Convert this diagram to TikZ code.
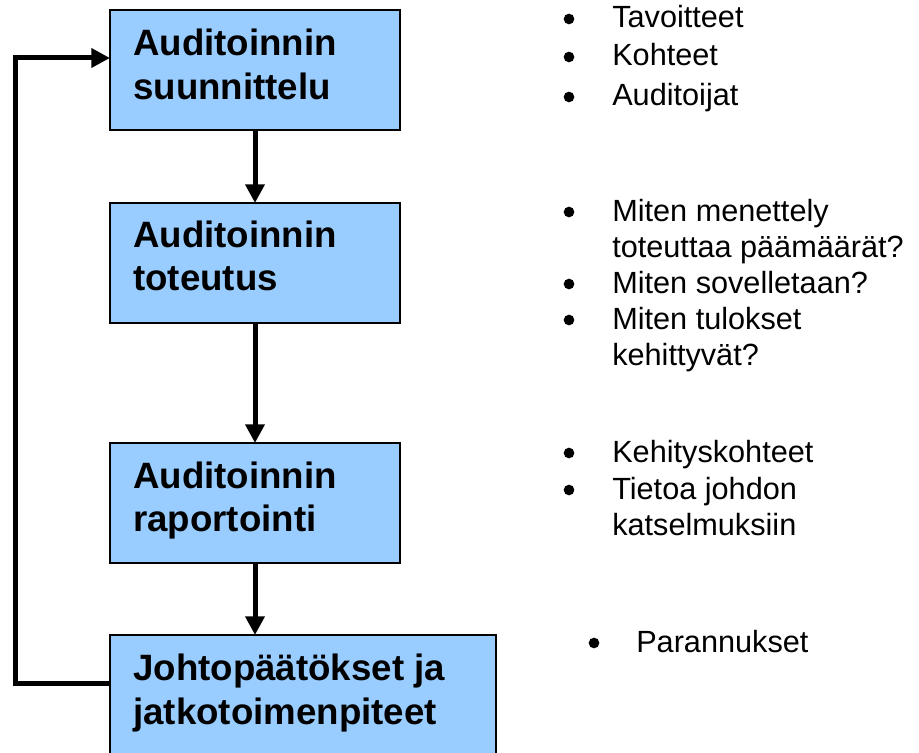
\documentclass[tikz,border=0pt]{standalone}
\usepackage{fontspec}
\setmainfont{Liberation Sans}
\usetikzlibrary{arrows.meta}
\definecolor{boxblue}{RGB}{153,204,255}
\tikzset{
  stagebox/.style={draw=black, line width=0.8pt, fill=boxblue, inner sep=0pt, outer sep=0pt, minimum height=90pt},
  boxtext/.style={anchor=base west, inner sep=0pt, font=\bfseries\fontsize{27.5pt}{33pt}\selectfont},
  itemtext/.style={anchor=base west, inner sep=0pt, font=\fontsize{23pt}{28pt}\selectfont},
  flow/.style={line width=3.75pt, -{Triangle[length=14pt,width=14pt]}},
  dotmark/.style={fill=black}
}
\begin{document}
\begin{tikzpicture}[x=0.75pt,y=-0.75pt]
\useasboundingbox (0,0) rectangle (919,752);
% boxes
\node[stagebox, minimum width=217.5pt] (b1) at (255,70) {};
\node[stagebox, minimum width=217.5pt] (b2) at (255,263) {};
\node[stagebox, minimum width=217.5pt] (b3) at (255,503) {};
\node[stagebox, minimum width=289.5pt] (b4) at (303,695) {};
% box texts
\node[boxtext] (t1a) at (133,56) {Auditoinnin};
\node[boxtext] (t1b) at (133,100) {suunnittelu};
\node[boxtext] (t2a) at (133,247) {Auditoinnin};
\node[boxtext] (t2b) at (133,290) {toteutus};
\node[boxtext] (t3a) at (133,488) {Auditoinnin};
\node[boxtext] (t3b) at (133,531) {raportointi};
\node[boxtext] (t4a) at (133,680) {Johtopäätökset ja};
\node[boxtext] (t4b) at (133,724) {jatkotoimenpiteet};
% arrows
\draw[flow] (b1.south) -- (b2.north);
\draw[flow] (b2.south) -- (b3.north);
\draw[flow] (b3.south) -- (b3.south |- b4.north);
\coordinate (lp1) at (15,683);
\coordinate (lp2) at (15,58);
\draw[flow, line join=miter] (b4.west |- lp1) -- (lp1) -- (lp2) -- (b1.west |- lp2);
% bullet group 1
\fill[dotmark] (569,19) circle (4pt);
\fill[dotmark] (569,57) circle (4pt);
\fill[dotmark] (569,97) circle (4pt);
\node[itemtext] (g1a) at (612,28) {Tavoitteet};
\node[itemtext] (g1b) at (612,66) {Kohteet};
\node[itemtext] (g1c) at (612,106) {Auditoijat};
% bullet group 2
\fill[dotmark] (569,212) circle (4pt);
\fill[dotmark] (569,284) circle (4pt);
\fill[dotmark] (569,320) circle (4pt);
\node[itemtext] (g2a) at (612,221) {Miten menettely};
\node[itemtext] (g2b) at (612,257) {toteuttaa päämäärät?};
\node[itemtext] (g2c) at (612,293) {Miten sovelletaan?};
\node[itemtext] (g2d) at (612,329) {Miten tulokset};
\node[itemtext] (g2e) at (612,365) {kehittyvät?};
% bullet group 3
\fill[dotmark] (569,453) circle (4pt);
\fill[dotmark] (569,490) circle (4pt);
\node[itemtext] (g3a) at (612,462) {Kehityskohteet};
\node[itemtext] (g3b) at (612,499) {Tietoa johdon};
\node[itemtext] (g3c) at (612,535) {katselmuksiin};
% bullet group 4
\fill[dotmark] (594,643) circle (4pt);
\node[itemtext] (g4a) at (636,652) {Parannukset};
\end{tikzpicture}
\end{document}
